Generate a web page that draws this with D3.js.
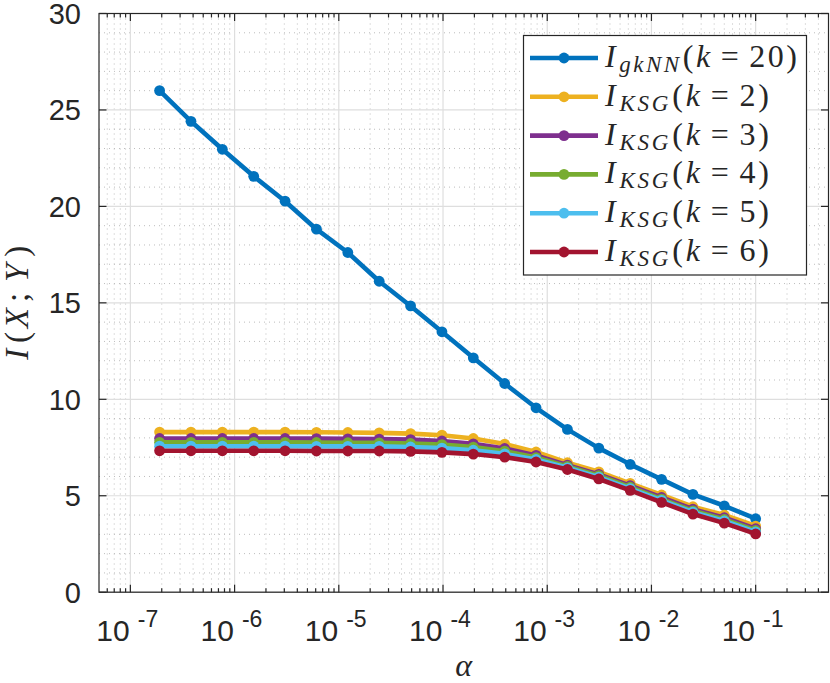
<!DOCTYPE html>
<html>
<head>
<meta charset="utf-8">
<script src="https://cdn.jsdelivr.net/npm/d3@7"></script>
<style>
  body { margin: 0; background: #fff; }
  svg { display: block; }
  .sans { font-family: "Liberation Sans", Arial, Helvetica, sans-serif; }
  .serif { font-family: "Liberation Serif", "Times New Roman", "DejaVu Serif", serif; }
</style>
</head>
<body>
<svg></svg>
<script>
// alpha values (x), 0.1 halved each step
var alphas = [1.9073e-7, 3.8147e-7, 7.6294e-7, 1.5259e-6, 3.0518e-6, 6.1035e-6,
  1.2207e-5, 2.4414e-5, 4.8828e-5, 9.7656e-5, 1.9531e-4, 3.9063e-4,
  7.8125e-4, 1.5625e-3, 3.125e-3, 6.25e-3, 1.25e-2, 2.5e-2, 5e-2, 0.1];

var gknn20 = [26.0, 24.41, 22.96, 21.56, 20.27, 18.82, 17.61, 16.12, 14.84, 13.50,
  12.15, 10.82, 9.56, 8.44, 7.47, 6.63, 5.85, 5.07, 4.48, 3.81];
var ksg2 = [8.30, 8.30, 8.30, 8.30, 8.30, 8.29, 8.28, 8.26, 8.22, 8.14,
  7.97, 7.68, 7.27, 6.71, 6.24, 5.64, 5.04, 4.43, 4.00, 3.43];
var ksg3 = [7.97, 7.97, 7.97, 7.97, 7.97, 7.96, 7.95, 7.94, 7.91, 7.84,
  7.69, 7.45, 7.09, 6.59, 6.11, 5.52, 4.91, 4.30, 3.86, 3.29];
var ksg4 = [7.77, 7.77, 7.77, 7.77, 7.77, 7.76, 7.75, 7.74, 7.71, 7.65,
  7.52, 7.31, 6.98, 6.52, 6.04, 5.44, 4.83, 4.22, 3.77, 3.20];
var ksg5 = [7.57, 7.57, 7.57, 7.57, 7.57, 7.56, 7.56, 7.56, 7.53, 7.47,
  7.36, 7.17, 6.88, 6.45, 5.96, 5.37, 4.76, 4.15, 3.69, 3.12];
var ksg6 = [7.33, 7.33, 7.33, 7.33, 7.33, 7.32, 7.32, 7.32, 7.30, 7.25,
  7.16, 7.00, 6.75, 6.36, 5.87, 5.28, 4.66, 4.05, 3.58, 3.02];

var seriesNames = [["gkNN", "20"], ["KSG", "2"], ["KSG", "3"], ["KSG", "4"], ["KSG", "5"], ["KSG", "6"]];
var seriesColors = ["#0072BD", "#EDB120", "#7E2F8E", "#77AC30", "#4DBEEE", "#A2142F"];
var seriesData = [gknn20, ksg2, ksg3, ksg4, ksg5, ksg6];

var xExps = [-7, -6, -5, -4, -3, -2, -1];
var yTicks = [0, 5, 10, 15, 20, 25, 30];

var width = 830, height = 683;
var padL = 99, padR = 828.5, padT = 13.5, padB = 592.2;
var ink = "#262626";

var svg = d3.select("svg").attr("width", width).attr("height", height);

var x = d3.scaleLog().domain([5e-8, 0.5]).range([padL, padR]);
var y = d3.scaleLinear().domain([0, 30]).range([padB, padT]);

// minor positions
var xMinor = [];
for (var e = -8; e <= 0; e++) {
  for (var m = 2; m <= 9; m++) {
    var v = m * Math.pow(10, e);
    if (v > 5e-8 && v < 0.5) xMinor.push(v);
  }
}
var yMinor = d3.range(1, 30).filter(function(d) { return d % 5 != 0; });

var grid = svg.append("g");
// minor grid (dotted)
grid.selectAll(".xm").data(xMinor).enter().append("line")
  .attr("x1", function(d) { return x(d); }).attr("x2", function(d) { return x(d); })
  .attr("y1", padT).attr("y2", padB)
  .attr("stroke", "#bdbdbd").attr("stroke-width", 1).attr("stroke-dasharray", "1,4");
grid.selectAll(".ym").data(yMinor).enter().append("line")
  .attr("x1", padL).attr("x2", padR)
  .attr("y1", function(d) { return y(d); }).attr("y2", function(d) { return y(d); })
  .attr("stroke", "#bdbdbd").attr("stroke-width", 1).attr("stroke-dasharray", "1,4");
// major grid
grid.selectAll(".xM").data(xExps).enter().append("line")
  .attr("x1", function(d) { return x(Math.pow(10, d)); }).attr("x2", function(d) { return x(Math.pow(10, d)); })
  .attr("y1", padT).attr("y2", padB)
  .attr("stroke", "#dedede").attr("stroke-width", 1.2);
grid.selectAll(".yM").data(yTicks).enter().append("line")
  .attr("x1", padL).attr("x2", padR)
  .attr("y1", function(d) { return y(d); }).attr("y2", function(d) { return y(d); })
  .attr("stroke", "#dedede").attr("stroke-width", 1.2);

// data
var line = d3.line()
  .x(function(d, i) { return x(alphas[i]); })
  .y(function(d) { return y(d); });

seriesData.forEach(function(s, k) {
  var g = svg.append("g");
  g.append("path").datum(s)
    .attr("d", line)
    .attr("fill", "none")
    .attr("stroke", seriesColors[k])
    .attr("stroke-width", 4.6)
    .attr("stroke-linejoin", "round");
  g.selectAll("circle").data(s).enter().append("circle")
    .attr("cx", function(d, i) { return x(alphas[i]); })
    .attr("cy", function(d) { return y(d); })
    .attr("r", 5.4)
    .attr("fill", seriesColors[k]);
});

// axes box with ticks
var axisG = svg.append("g").attr("stroke", ink).attr("stroke-width", 1.2);
axisG.append("rect").attr("x", padL).attr("y", padT)
  .attr("width", padR - padL).attr("height", padB - padT).attr("fill", "none");

var xMajorVals = xExps.map(function(d) { return Math.pow(10, d); });
[padB, padT].forEach(function(yy) {
  var dir = yy == padB ? -1 : 1;
  axisG.selectAll(null).data(xMajorVals).enter().append("line")
    .attr("x1", function(d) { return x(d); }).attr("x2", function(d) { return x(d); })
    .attr("y1", yy).attr("y2", yy + dir * 7.5);
  axisG.selectAll(null).data(xMinor).enter().append("line")
    .attr("x1", function(d) { return x(d); }).attr("x2", function(d) { return x(d); })
    .attr("y1", yy).attr("y2", yy + dir * 4);
});
[padL, padR].forEach(function(xx) {
  var dir = xx == padL ? 1 : -1;
  axisG.selectAll(null).data(yTicks).enter().append("line")
    .attr("x1", xx).attr("x2", xx + dir * 7.5)
    .attr("y1", function(d) { return y(d); }).attr("y2", function(d) { return y(d); });
});

// tick labels
svg.selectAll(".ylab").data(yTicks).enter().append("text")
  .attr("class", "sans")
  .attr("x", padL - 18)
  .attr("y", function(d) { return y(d) + 10.5; })
  .attr("text-anchor", "end")
  .attr("font-size", "29px")
  .attr("fill", ink)
  .text(function(d) { return d; });

var xl = svg.selectAll(".xlab").data(xExps).enter().append("text")
  .attr("class", "sans")
  .attr("x", function(d) { return x(Math.pow(10, d)) - 34; })
  .attr("y", 641)
  .attr("font-size", "30px")
  .attr("fill", ink);
xl.append("tspan").text("10");
xl.append("tspan").attr("dx", 8).attr("dy", -14).attr("font-size", "23px")
  .text(function(d) { return d; });

// axis titles
svg.append("text")
  .attr("class", "serif")
  .attr("x", (padL + padR) / 2).attr("y", 676)
  .attr("text-anchor", "middle")
  .attr("font-style", "italic")
  .attr("font-size", "32px").attr("fill", ink)
  .text("α");

var yt = svg.append("text")
  .attr("class", "serif")
  .attr("transform", "translate(28," + ((padT + padB) / 2) + ") rotate(-90)")
  .attr("x", -57)
  .attr("textLength", 114).attr("lengthAdjust", "spacing")
  .attr("font-size", "33px").attr("fill", ink);
yt.append("tspan").attr("font-style", "italic").text("I");
yt.append("tspan").attr("dx", 2).text("(");
yt.append("tspan").attr("font-style", "italic").text("X");
yt.append("tspan").attr("dx", 2).text(";");
yt.append("tspan").attr("dx", 7).attr("font-style", "italic").text("Y");
yt.append("tspan").attr("dx", 3).text(")");

// legend
var lg = svg.append("g");
lg.append("rect").attr("x", 523.5).attr("y", 35.5).attr("width", 283).attr("height", 239.5)
  .attr("fill", "#fff").attr("stroke", ink).attr("stroke-width", 1.2);

seriesNames.forEach(function(nm, k) {
  var cy = 58 + k * 38.8;
  lg.append("line").attr("x1", 530).attr("x2", 598).attr("y1", cy).attr("y2", cy)
    .attr("stroke", seriesColors[k]).attr("stroke-width", 4.6);
  lg.append("circle").attr("cx", 564).attr("cy", cy).attr("r", 5.4).attr("fill", seriesColors[k]);
  var t = lg.append("text").attr("class", "serif").attr("x", 605).attr("y", cy + 9)
    .attr("textLength", k == 0 ? 192 : 164).attr("lengthAdjust", "spacing")
    .attr("font-size", "32px").attr("fill", ink);
  t.append("tspan").attr("font-style", "italic").text("I");
  t.append("tspan").attr("font-style", "italic").attr("font-size", "23px").attr("dy", 5)
    .attr("dx", 1).text(nm[0]);
  t.append("tspan").attr("dy", -5).attr("dx", 1).text("(");
  t.append("tspan").attr("font-style", "italic").text("k");
  t.append("tspan").attr("dx", 8).text("=");
  t.append("tspan").attr("dx", 8).text(nm[1] + ")");
});
</script>
</body>
</html>
